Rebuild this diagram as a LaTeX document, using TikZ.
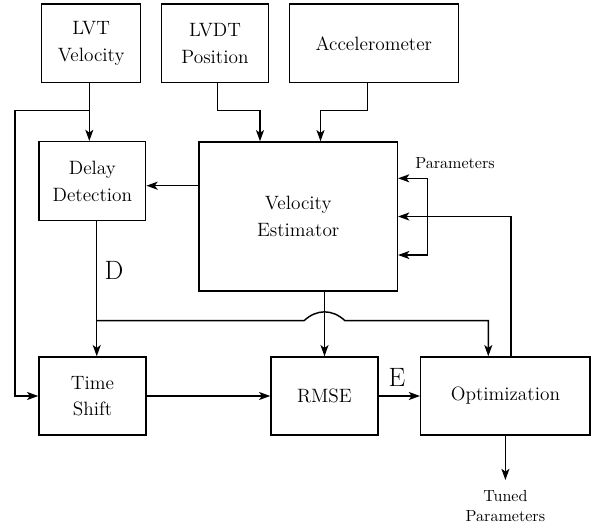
\documentclass[tikz,border=0pt]{standalone}
\usetikzlibrary{arrows.meta}
\def\pxu{0.6219pt}
\begin{document}
\begin{tikzpicture}[x=0.6219pt,y=-0.6219pt,
  blk/.style={draw,line width=0.9pt,align=center,inner sep=0pt,
    font=\fontsize{12}{16.5}\selectfont},
  arr/.style={line width=0.9pt,-{Stealth[length=7pt,width=5pt,inset=1.8pt]}},
  smalltxt/.style={font=\fontsize{10}{12.4}\selectfont,inner sep=0pt,align=center},
  bigtxt/.style={font=\fontsize{16.5}{20}\selectfont,inner sep=0pt}]
\useasboundingbox (0,0) rectangle (598,528);
% blocks
\node[blk,minimum width=99*\pxu,minimum height=78.7*\pxu] (lvt) at (91.2,43.3) {LVT\\Velocity};
\node[blk,minimum width=106.6*\pxu,minimum height=78.7*\pxu] (lvdt) at (215,43.3) {LVDT\\Position};
\node[blk,minimum width=169*\pxu,minimum height=78.7*\pxu] (acc) at (373.8,43.3) {Accelerometer};
\node[blk,minimum width=106.7*\pxu,minimum height=79*\pxu] (dd) at (92.35,181.2) {Delay\\Detection};
\node[blk,minimum width=198.3*\pxu,minimum height=149*\pxu] (ve) at (298.2,216.5) {Velocity\\Estimator};
\node[blk,minimum width=107*\pxu,minimum height=78*\pxu] (ts) at (92.5,396) {Time\\Shift};
\node[blk,minimum width=107*\pxu,minimum height=78*\pxu] (rmse) at (324.5,396) {RMSE};
\node[blk,minimum width=169.3*\pxu,minimum height=78*\pxu] (opt) at (505.4,396) {Optimization};
% labels
\node[bigtxt] (dlab) at (114,270) {D};
\node[bigtxt] (elab) at (397,377) {E};
\node[smalltxt,anchor=base] (plab) at (455,168) {Parameters};
\coordinate (tp) at (505.4,480);
\node[smalltxt,anchor=north] (tlab) at (505.4,490) {Tuned\\Parameters};
% coordinates
\coordinate (lvtx) at (89.3,110.7);
\coordinate (lft) at (15,110.7);
\coordinate (p1) at (260,110.7);
\coordinate (p2) at (320.5,110.7);
\coordinate (vdy) at (0,185.7);
\coordinate (dds) at ([xshift=4.4*\pxu]dd.south);
\coordinate (bry) at (0,320.7);
\coordinate (h1) at (304,320.7);
\coordinate (h2) at (345,320.7);
\coordinate (oin) at ([xshift=-17.1*\pxu]opt.north);
\coordinate (ofb) at ([xshift=5.6*\pxu]opt.north);
\coordinate (pt) at (427.7,178.3);
\coordinate (pb) at (427.7,255);
% connectors
\draw[arr] (lvt.south -| lvtx) -- (dd.north -| lvtx);
\draw[arr] (lvtx) -- (lft) |- (ts.west);
\draw[arr] ([xshift=2.3*\pxu]lvdt.south) |- (p1) -- (p1 |- ve.north);
\draw[arr] ([xshift=-6.5*\pxu]acc.south) |- (p2) -- (p2 |- ve.north);
\draw[arr] (ve.west |- vdy) -- (dd.east |- vdy);
\draw[arr] (dds) -- (dds |- ts.north);
\draw[arr] (dds |- bry) -- (h1) .. controls (316.7,308.9) and (332.3,308.9) .. (h2) -| (oin);
\draw[arr] (ve.south -| rmse.north) -- (rmse.north);
\draw[arr] (ts.east) -- (rmse.west);
\draw[arr] (rmse.east) -- (opt.west);
\draw[arr] (ofb) |- (ve.east);
\draw[arr] (pt) -- (ve.east |- pt);
\draw[arr] (pt) -- (pb) -- (ve.east |- pb);
\draw[arr] (opt.south) -- (tp);
\end{tikzpicture}
\end{document}
